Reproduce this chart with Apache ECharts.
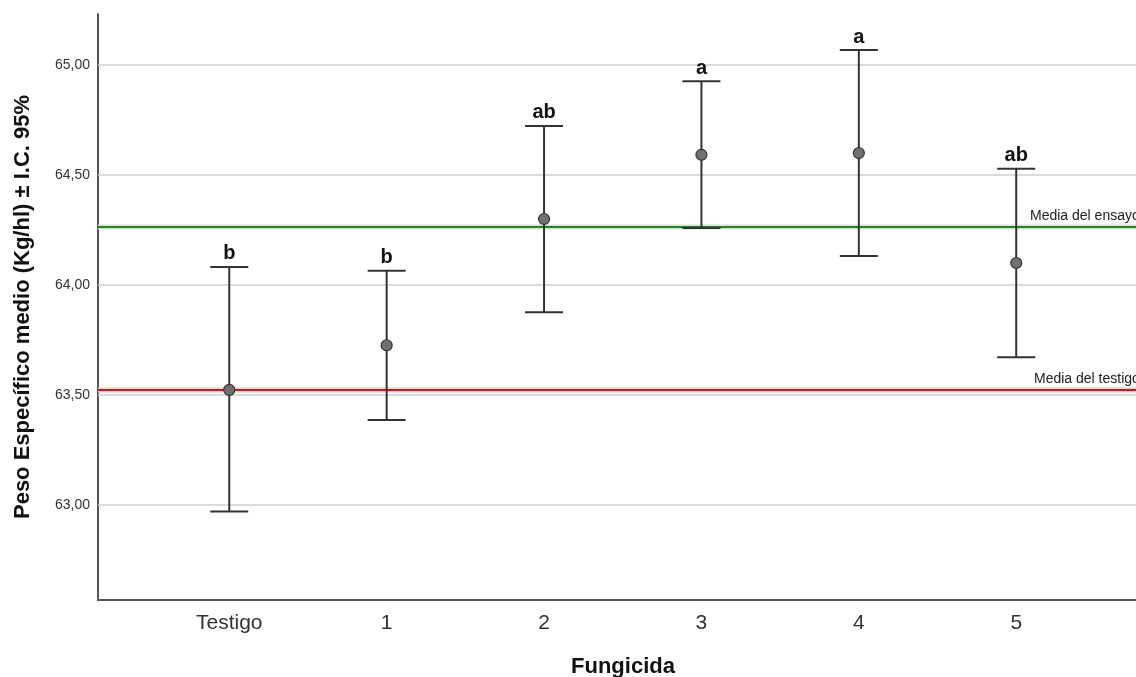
<!DOCTYPE html>
<html>
<head>
<meta charset="utf-8">
<script src="https://cdn.jsdelivr.net/npm/echarts@6/dist/echarts.min.js"></script>
<style>html,body{margin:0;padding:0;background:#fff;overflow:hidden}#c{width:1136px;height:677px}</style>
</head>
<body>
<div id="c"></div>
<script>
// ---- data ----
var categories = ['Testigo', '1', '2', '3', '4', '5'];
var means  = [63.523, 63.726, 64.300, 64.592, 64.600, 64.100];
var upper  = [64.082, 64.065, 64.723, 64.926, 65.068, 64.529];
var lower  = [62.970, 63.386, 63.876, 64.259, 64.132, 63.671];
var letters = ['b', 'b', 'ab', 'a', 'a', 'ab'];
var yTicks = [63.0, 63.5, 64.0, 64.5, 65.0];
var refValues = [64.262, 63.523];
var refNames = ['Media del ensayo', 'Media del testigo'];

var FONT = 'Liberation Sans, Arial, sans-serif';
var catIdx = categories.map(function (c, i) { return i; });

var errData = categories.map(function (c, i) { return [i, lower[i], upper[i], letters[i]]; });
var ptData = categories.map(function (c, i) { return [i, means[i]]; });
var refData = refValues.map(function (v, i) { return [0, v, refNames[i]]; });
var refColors = ['#2f7d2f', '#a82828'];
var refHalo = ['#cfe6cf', '#efc8c8'];
var refLabelOffset = [106, 102];

var chart = echarts.init(document.getElementById('c'), null, { renderer: 'canvas', width: 1136, height: 677 });
chart.setOption({
  animation: false,
  backgroundColor: '#ffffff',
  grid: { left: 98, top: 14, right: 0, bottom: 77, containLabel: false, outerBoundsMode: 'none' },
  xAxis: {
    type: 'value', min: -0.834, max: 5.761,
    name: 'Fungicida', nameLocation: 'middle', nameGap: 56,
    nameTextStyle: { fontFamily: FONT, fontSize: 22, fontWeight: 'bold', color: '#111', padding: [0, 0, 0, 12] },
    axisLine: { show: true, onZero: false, lineStyle: { color: '#555', width: 2 } },
    axisTick: { show: false },
    splitLine: { show: false },
    axisLabel: {
      customValues: catIdx, margin: 13,
      fontFamily: FONT, fontSize: 21, color: '#333',
      formatter: function (v) { return categories[Math.round(v)]; }
    }
  },
  yAxis: {
    type: 'value', min: 62.568, max: 65.232,
    name: 'Peso Específico medio (Kg/hl) ± I.C. 95%', nameLocation: 'middle', nameGap: 64,
    nameTextStyle: { fontFamily: FONT, fontSize: 22, fontWeight: 'bold', color: '#111' },
    axisLine: { show: true, onZero: false, lineStyle: { color: '#555', width: 2 } },
    axisTick: { show: false },
    splitLine: { show: false },
    axisLabel: {
      customValues: yTicks, margin: 8,
      fontFamily: FONT, fontSize: 14, color: '#333',
      formatter: function (v) { return v.toFixed(2).replace('.', ','); }
    }
  },
  series: [
    {
      type: 'line', data: [], silent: true, z: 1,
      markLine: {
        silent: true, symbol: 'none', animation: false,
        label: { show: false },
        lineStyle: { color: '#cfcfcf', width: 1.5, type: 'solid' },
        data: yTicks.map(function (v) { return { yAxis: v }; })
      }
    },
    {
      type: 'custom', z: 3, silent: true,
      data: refData,
      renderItem: function (params, api) {
        var cs = params.coordSys;
        var i = params.dataIndex;
        var p = api.coord([0, api.value(1)]);
        var y = Math.round(p[1]);
        return {
          type: 'group',
          children: [
            { type: 'line', shape: { x1: cs.x, y1: y, x2: cs.x + cs.width, y2: y }, style: { stroke: refHalo[i], lineWidth: 5 } },
            { type: 'line', shape: { x1: cs.x, y1: y, x2: cs.x + cs.width, y2: y }, style: { stroke: refColors[i], lineWidth: 2 } },
            { type: 'text', style: { x: cs.x + cs.width - refLabelOffset[i], y: y - 4, text: api.value(2), textAlign: 'left', textVerticalAlign: 'bottom', font: '14px ' + FONT, fill: '#222' } }
          ]
        };
      }
    },
    {
      type: 'custom', z: 5, silent: true,
      data: errData,
      renderItem: function (params, api) {
        var x = api.value(0);
        var lo = api.coord([x, api.value(1)]);
        var hi = api.coord([x, api.value(2)]);
        var hw = 19;
        var st = { stroke: '#333', lineWidth: 2 };
        return {
          type: 'group',
          children: [
            { type: 'line', shape: { x1: hi[0], y1: hi[1], x2: lo[0], y2: lo[1] }, style: st },
            { type: 'line', shape: { x1: hi[0] - hw, y1: hi[1], x2: hi[0] + hw, y2: hi[1] }, style: st },
            { type: 'line', shape: { x1: lo[0] - hw, y1: lo[1], x2: lo[0] + hw, y2: lo[1] }, style: st },
            { type: 'text', style: { x: hi[0], y: hi[1] - 3, text: api.value(3), textAlign: 'center', textVerticalAlign: 'bottom', font: 'bold 20px ' + FONT, fill: '#111' } }
          ]
        };
      }
    },
    {
      type: 'scatter', z: 6, silent: true,
      data: ptData, symbol: 'circle', symbolSize: 11,
      itemStyle: { color: '#707070', borderColor: '#333', borderWidth: 1.2, opacity: 1 }
    }
  ]
});
</script>
</body>
</html>
